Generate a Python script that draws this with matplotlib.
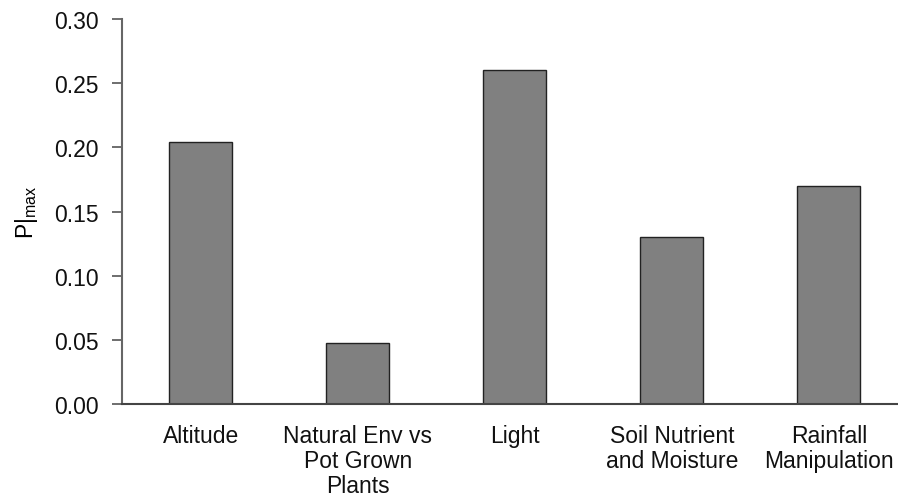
import matplotlib
matplotlib.use("Agg")
import matplotlib.pyplot as plt

categories = ["Altitude", "Natural Env vs\nPot Grown\nPlants", "Light",
              "Soil Nutrient\nand Moisture", "Rainfall\nManipulation"]
values = [0.204, 0.048, 0.260, 0.130, 0.170]
yticks = [0.00, 0.05, 0.10, 0.15, 0.20, 0.25, 0.30]

plt.rcParams['font.family'] = ['Liberation Sans', 'DejaVu Sans']
plt.rcParams['mathtext.fontset'] = 'custom'
plt.rcParams['mathtext.rm'] = 'Liberation Sans'
plt.rcParams['mathtext.it'] = 'Liberation Sans'

fig = plt.figure(figsize=(8.98, 5.02), dpi=100)
ax = fig.add_axes([0.136, 0.193, 0.864, 0.767])

x = list(range(len(categories)))
ax.bar(x, values, width=0.40, color='#808080', edgecolor='#222222', linewidth=1.0)

ax.set_xlim(-0.5, 4.44)
ax.set_ylim(0, 0.30)
ax.set_yticks(yticks)
ax.set_yticklabels([f"{v:.2f}" for v in yticks], fontsize=16.5, color='#111111')
ax.set_xticks(x)
ax.set_xticklabels(categories, fontsize=16.5, color='#111111', linespacing=1.13)
ax.tick_params(axis='x', length=0, pad=14)
ax.tick_params(axis='y', direction='out', length=7, width=1.2, color='#555555', pad=10)

for s in ['top', 'right']:
    ax.spines[s].set_visible(False)
ax.spines['left'].set_color('#666666')
ax.spines['left'].set_linewidth(1.5)
ax.spines['bottom'].set_color('#444444')
ax.spines['bottom'].set_linewidth(1.5)

ax.set_ylabel(r'P$|_{\mathrm{max}}$', fontsize=16.5, labelpad=10)

fig.savefig('out.png', dpi=100)
